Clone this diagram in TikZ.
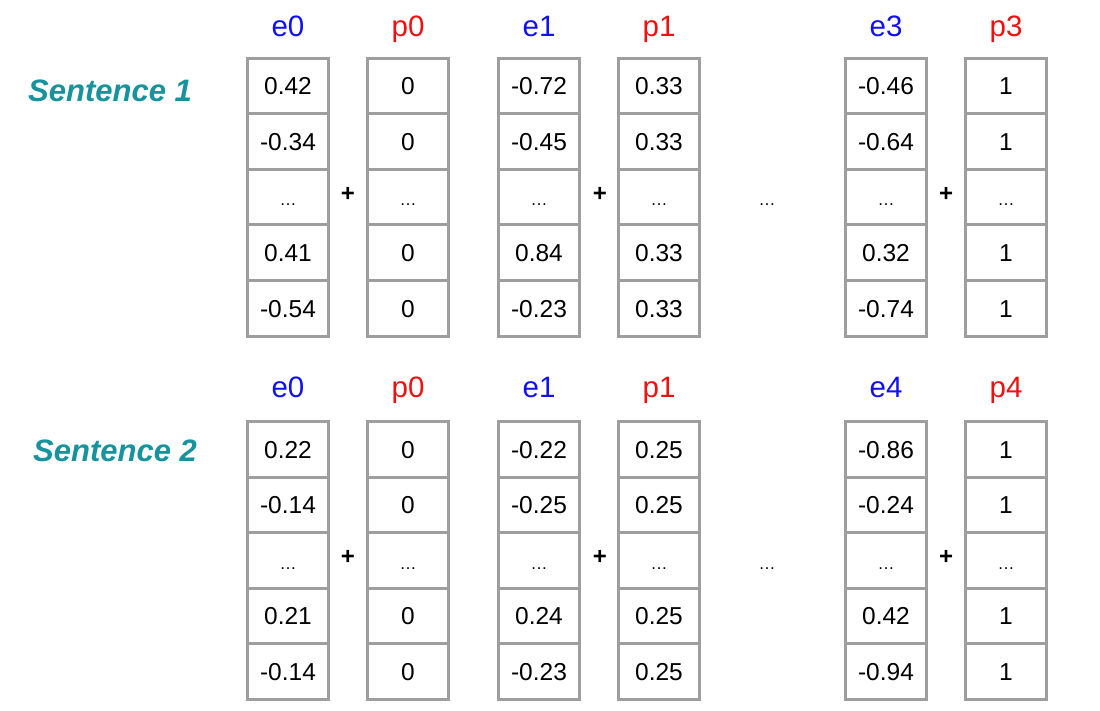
\documentclass[tikz,border=0pt]{standalone}
\usepackage{fontspec}
\setmainfont{Liberation Sans}
\definecolor{cellgray}{HTML}{9E9E9E}
\definecolor{hblue}{HTML}{1010F0}
\definecolor{hred}{HTML}{EE1111}
\definecolor{teal2}{HTML}{16939C}
\newcommand\dd{{\fontsize{17}{17}\selectfont …}}
\newcommand\vcol[4]{%
  \foreach \v [count=\i] in {#4} {
    \node[cell] (#1-\i) at (#2, {#3+27.75+55.5*(\i-1)}) {\v};
  }%
}
\begin{document}
\begin{tikzpicture}[x=1pt,y=-1pt,
  cell/.style={draw=cellgray, line width=3pt, minimum width=81pt, minimum height=55.5pt,
    inner sep=0pt, font=\fontsize{24.5}{24.5}\selectfont, text height=17.5pt, text depth=0pt},
  hdr/.style={font=\fontsize{29.5}{29.5}\selectfont, inner sep=0pt, anchor=base},
  plussign/.style={font=\fontsize{24}{24}\selectfont\bfseries, inner sep=0pt},
  gap/.style={font=\fontsize{17}{17}\selectfont, inner sep=0pt, anchor=base},
  sent/.style={font=\fontsize{31}{31}\selectfont\bfseries\itshape, text=teal2, anchor=base west, inner sep=0pt}]
\useasboundingbox (0,0) rectangle (1100,711);
% ---------- Sentence 1 ----------
\node[sent] (s1) at (28,101.5) {Sentence 1};
\node[hdr, text=hblue] (h1e0) at (288,37) {e0};
\node[hdr, text=hred]  (h1p0) at (408,37) {p0};
\node[hdr, text=hblue] (h1e1) at (539,37) {e1};
\node[hdr, text=hred]  (h1p1) at (659,37) {p1};
\node[hdr, text=hblue] (h1e3) at (886,37) {e3};
\node[hdr, text=hred]  (h1p3) at (1006,37) {p3};
\vcol{a0}{288}{58.5}{0.42,-0.34,\dd,0.41,-0.54}
\vcol{b0}{408}{58.5}{0,0,\dd,0,0}
\vcol{a1}{539}{58.5}{-0.72,-0.45,\dd,0.84,-0.23}
\vcol{b1}{659}{58.5}{0.33,0.33,\dd,0.33,0.33}
\vcol{a3}{886}{58.5}{-0.46,-0.64,\dd,0.32,-0.74}
\vcol{b3}{1006}{58.5}{1,1,\dd,1,1}
\node[plussign] (pl1a) at (348,194) {+};
\node[plussign] (pl1b) at (600,194) {+};
\node[plussign] (pl1c) at (946,194) {+};
\node[gap] (g1) at (767,206) {…};
% ---------- Sentence 2 ----------
\node[sent] (s2) at (33,461.5) {Sentence 2};
\node[hdr, text=hblue] (h2e0) at (288,397) {e0};
\node[hdr, text=hred]  (h2p0) at (408,397) {p0};
\node[hdr, text=hblue] (h2e1) at (539,397) {e1};
\node[hdr, text=hred]  (h2p1) at (659,397) {p1};
\node[hdr, text=hblue] (h2e4) at (886,397) {e4};
\node[hdr, text=hred]  (h2p4) at (1006,397) {p4};
\vcol{c0}{288}{421.5}{0.22,-0.14,\dd,0.21,-0.14}
\vcol{d0}{408}{421.5}{0,0,\dd,0,0}
\vcol{c1}{539}{421.5}{-0.22,-0.25,\dd,0.24,-0.23}
\vcol{d1}{659}{421.5}{0.25,0.25,\dd,0.25,0.25}
\vcol{c4}{886}{421.5}{-0.86,-0.24,\dd,0.42,-0.94}
\vcol{d4}{1006}{421.5}{1,1,\dd,1,1}
\node[plussign] (pl2a) at (348,557) {+};
\node[plussign] (pl2b) at (600,557) {+};
\node[plussign] (pl2c) at (946,557) {+};
\node[gap] (g2) at (767,569) {…};
\end{tikzpicture}
\end{document}
